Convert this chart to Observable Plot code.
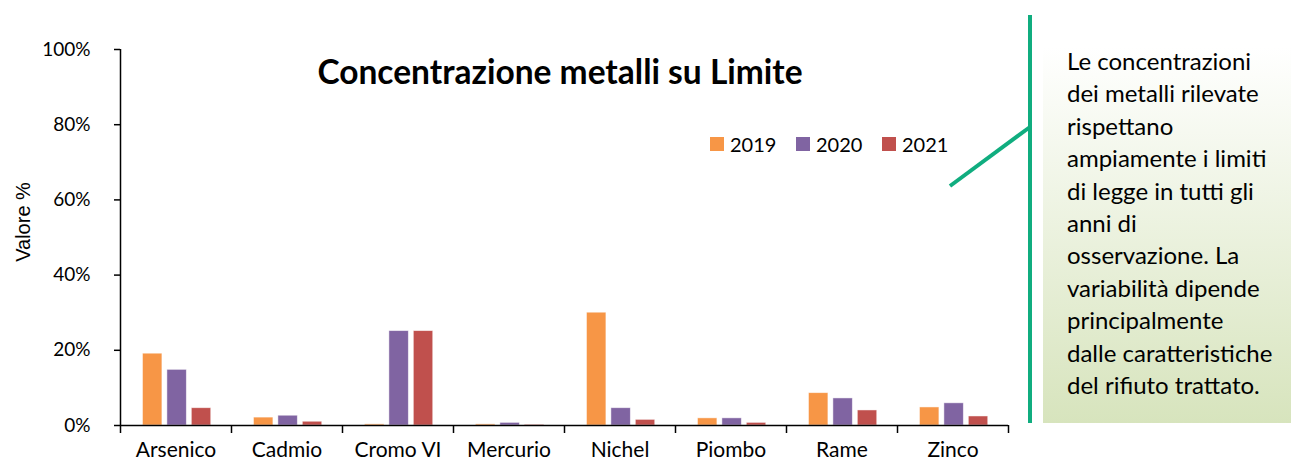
<!DOCTYPE html>
<html>
<head>
<meta charset="utf-8">
<script src="https://cdn.jsdelivr.net/npm/d3@7"></script>
<script src="https://cdn.jsdelivr.net/npm/@observablehq/plot@0.6"></script>
<style>
  html, body { margin: 0; padding: 0; background: #fff; }
  #chart { position: relative; width: 1291px; height: 464px; }
</style>
</head>
<body>
<div id="chart"></div>
<script>
const metals = ["Arsenico", "Cadmio", "Cromo VI", "Mercurio", "Nichel", "Piombo", "Rame", "Zinco"];
const years = ["2019", "2020", "2021"];
const v2019 = [19.1, 2.1, 0.3, 0.3, 30.0, 1.9, 8.6, 4.8];
const v2020 = [14.8, 2.6, 25.1, 0.7, 4.6, 1.9, 7.2, 5.9];
const v2021 = [4.6, 1.0, 25.1, 0.2, 1.5, 0.7, 4.0, 2.4];
const yTicks = [0, 20, 40, 60, 80, 100];
const colors = ["#F79646", "#8064A2", "#C0504D"];
const title = "Concentrazione metalli su Limite";
const yLabel = "Valore %";
const noteLines = [
  "Le concentrazioni",
  "dei metalli rilevate",
  "rispettano",
  "ampiamente i limiti",
  "di legge in tutti gli",
  "anni di",
  "osservazione. La",
  "variabilità dipende",
  "principalmente",
  "dalle caratteristiche",
  "del rifiuto trattato."
];

const series = [v2019, v2020, v2021];
const data = [];
metals.forEach((m, i) => {
  series.forEach((vals, j) => data.push({metal: m, i, j, year: years[j], value: vals[i]}));
});

// bar geometry in category units
const bw = 0.175, gap = 0.045;
const groupW = 3 * bw + 2 * gap;
const off = (1 - groupW) / 2 + 0.01;

const plot = Plot.plot({
  width: 1291,
  height: 464,
  marginLeft: 120,
  marginRight: 283,
  marginTop: 49,
  marginBottom: 39,
  style: {fontFamily: "Lato, sans-serif", fontSize: "18px", color: "#000", background: "#fff"},
  x: {type: "linear", domain: [0, metals.length], axis: null},
  y: {domain: [0, 100], axis: null},
  color: {domain: years, range: colors},
  marks: [
    Plot.rectY(data, {
      x1: d => d.i + off + d.j * (bw + gap),
      x2: d => d.i + off + d.j * (bw + gap) + bw,
      y: "value",
      fill: "year",
      stroke: "#ffffff",
      strokeOpacity: 0.6,
      strokeWidth: 0.8
    }),
    Plot.axisY({ticks: yTicks, tickFormat: d => d + "%", tickSize: 6, tickPadding: 24, stroke: "#000", strokeWidth: 1.5, fontSize: 19, label: null}),
    Plot.axisX({ticks: d3.range(0, metals.length + 1), tickFormat: () => "", tickSize: 8, stroke: "#000", strokeWidth: 1.5, label: null}),
    Plot.axisX({ticks: metals.map((m, i) => i + 0.5), tickFormat: d => metals[Math.floor(d)], tickSize: 0, tickPadding: 17, fontSize: 21, label: null}),
    Plot.ruleX([0], {stroke: "#000", strokeWidth: 1.5}),
    Plot.ruleY([0], {stroke: "#000", strokeWidth: 1.5})
  ]
});

document.getElementById("chart").appendChild(plot);
const svg = d3.select(plot);

// title
svg.append("text")
  .attr("x", 560).attr("y", 84)
  .attr("text-anchor", "middle")
  .attr("font-family", "Lato, sans-serif")
  .attr("font-weight", "bold")
  .attr("font-size", 33.5)
  .attr("fill", "#000")
  .text(title);

// y label
svg.append("text")
  .attr("transform", "translate(30,222) rotate(-90)")
  .attr("text-anchor", "middle")
  .attr("font-family", "Liberation Sans, Arial, sans-serif")
  .attr("font-size", 20)
  .attr("fill", "#000")
  .text(yLabel);

// legend
const lg = svg.append("g").attr("font-family", "Lato, sans-serif").attr("font-size", 20).attr("text-anchor", "start");
years.forEach((y, k) => {
  const gx = 710 + k * 86;
  lg.append("rect").attr("x", gx).attr("y", 137).attr("width", 14).attr("height", 14).attr("fill", colors[k]);
  lg.append("text").attr("x", gx + 20).attr("y", 152).attr("fill", "#000").text(y);
});

// note box
const defs = svg.append("defs");
const grad = defs.append("linearGradient").attr("id", "noteGrad").attr("x1", 0).attr("y1", 0).attr("x2", 0).attr("y2", 1);
grad.append("stop").attr("offset", "0%").attr("stop-color", "#ffffff");
grad.append("stop").attr("offset", "100%").attr("stop-color", "#D7E4BD");
svg.append("rect").attr("x", 1043).attr("y", 47).attr("width", 248).attr("height", 376).attr("fill", "url(#noteGrad)");
const nt = svg.append("text").attr("font-family", "Lato, sans-serif").attr("font-size", 24).attr("fill", "#000").attr("text-anchor", "start");
noteLines.forEach((l, k) => {
  nt.append("tspan").attr("x", 1067).attr("y", 70 + k * 32.4).text(l);
});

// connector lines
svg.append("line").attr("x1", 1030).attr("y1", 15).attr("x2", 1030).attr("y2", 423)
  .attr("stroke", "#10AD7F").attr("stroke-width", 4);
svg.append("line").attr("x1", 950).attr("y1", 186).attr("x2", 1030).attr("y2", 127)
  .attr("stroke", "#10AD7F").attr("stroke-width", 4);
</script>
</body>
</html>
